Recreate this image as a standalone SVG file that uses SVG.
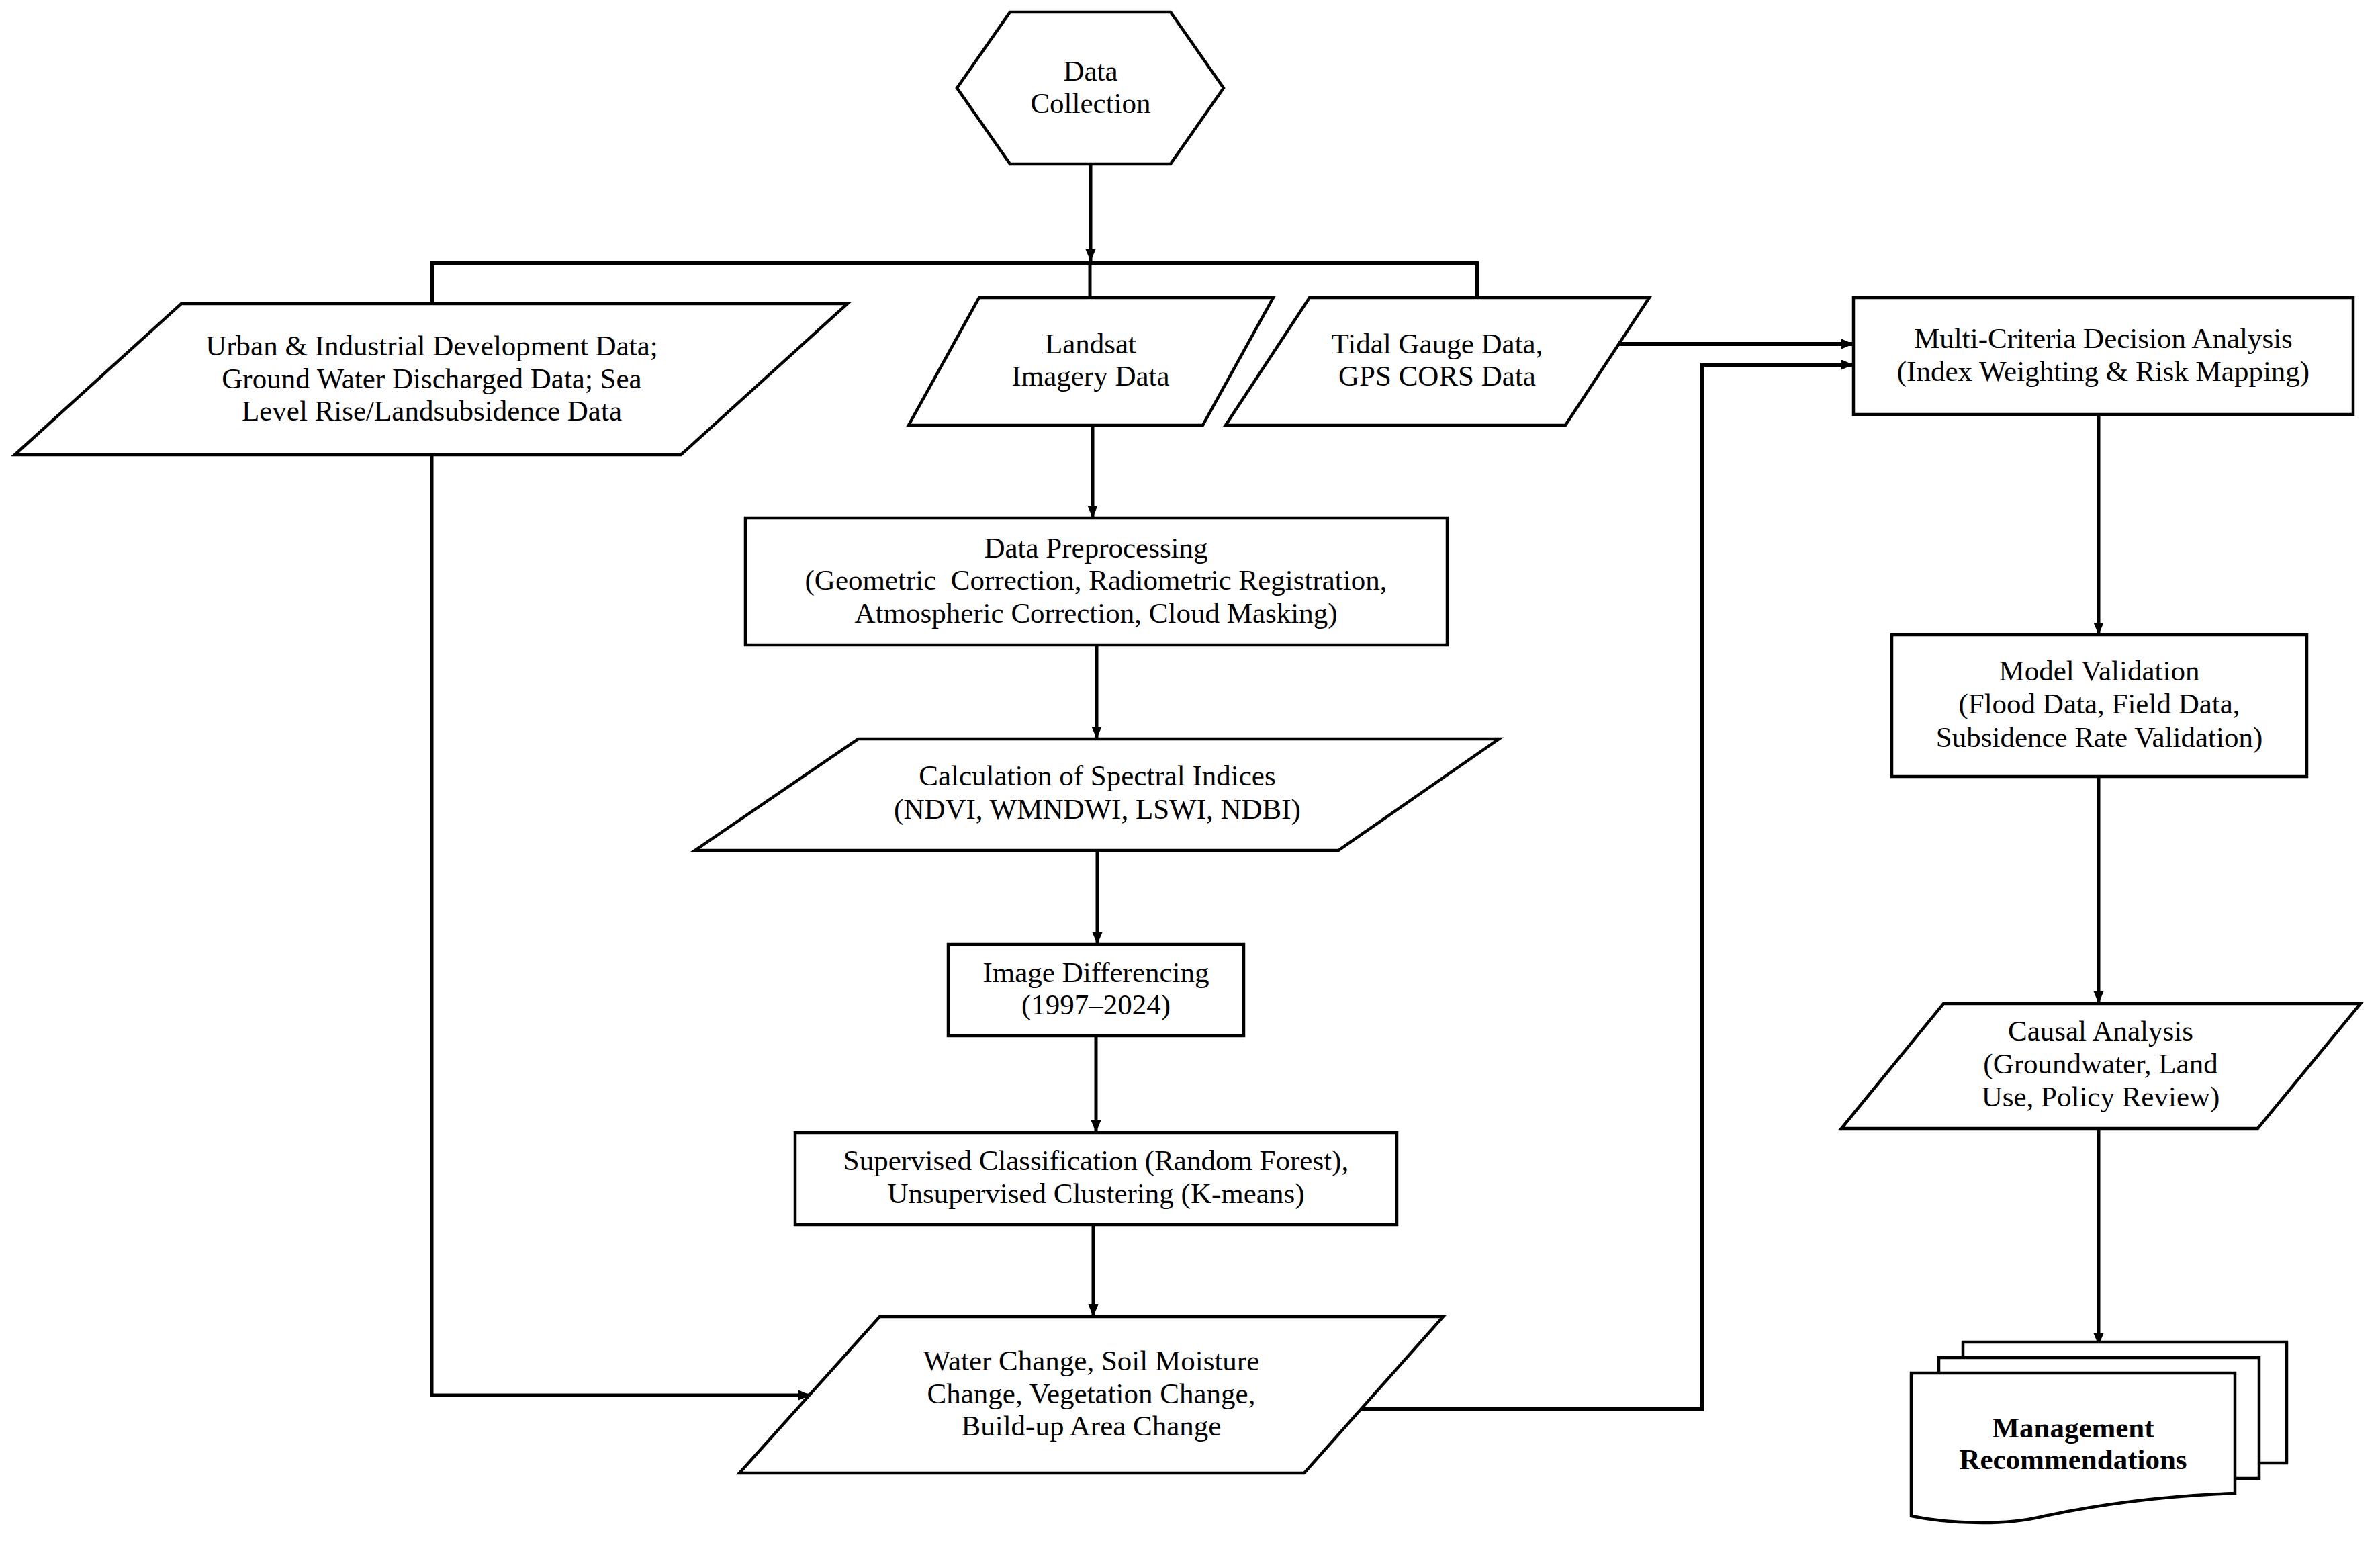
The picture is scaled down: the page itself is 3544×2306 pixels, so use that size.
<svg xmlns="http://www.w3.org/2000/svg" width="3544" height="2306" viewBox="0 0 3544 2306">
<style>
.shape{fill:#fff;stroke:#000;stroke-width:4.5;stroke-linejoin:miter}
.lbl{font-family:"Liberation Serif","Times New Roman",serif;font-size:43px;fill:#000;text-anchor:middle}
.bold{font-weight:bold}
.conn{fill:none;stroke:#000;stroke-width:5}
.thick{stroke-width:6}
</style>
<defs>
<marker id="arr" markerUnits="userSpaceOnUse" markerWidth="18" markerHeight="16" refX="18" refY="7.5" orient="auto">
<path d="M0,0 L18,7.5 L0,15 z" fill="#000"/>
</marker>
</defs>
<rect width="3544" height="2306" fill="#fff"/>

<g id="connectors">
<line class="conn" x1="1624" y1="244" x2="1624" y2="389" marker-end="url(#arr)"/>
<polyline class="conn thick" points="643,452 643,392 2199,392 2199,443"/>
<line class="conn" x1="1623" y1="392" x2="1623" y2="443"/>
<line class="conn" x1="1627" y1="633" x2="1627" y2="771" marker-end="url(#arr)"/>
<line class="conn" x1="1633" y1="960" x2="1633" y2="1100" marker-end="url(#arr)"/>
<line class="conn" x1="1634" y1="1266" x2="1634" y2="1406" marker-end="url(#arr)"/>
<line class="conn" x1="1632" y1="1542" x2="1632" y2="1686" marker-end="url(#arr)"/>
<line class="conn" x1="1628" y1="1823" x2="1628" y2="1960" marker-end="url(#arr)"/>
<polyline class="conn" points="643,677 643,2077 1207,2077" marker-end="url(#arr)"/>
<line class="conn thick" x1="2411" y1="512" x2="2760" y2="512" marker-end="url(#arr)"/>
<polyline class="conn thick" points="2026,2098 2535,2098 2535,543 2760,543" marker-end="url(#arr)"/>
<line class="conn" x1="3125" y1="617" x2="3125" y2="945" marker-end="url(#arr)"/>
<line class="conn" x1="3125" y1="1156" x2="3125" y2="1494" marker-end="url(#arr)"/>
<line class="conn" x1="3125" y1="1680" x2="3125" y2="2003" marker-end="url(#arr)"/>
</g>

<g id="n-data-collection">
<polygon class="shape" points="1504,18 1743,18 1822,131 1743,244 1504,244 1425,131"/>
<text class="lbl" x="1624" y="120">Data</text>
<text class="lbl" x="1624" y="168">Collection</text>
</g>

<g id="n-urban">
<polygon class="shape" points="270,452 1262,452 1014,677 22,677"/>
<text class="lbl" x="643" y="529">Urban &amp; Industrial Development Data;</text>
<text class="lbl" x="643" y="578">Ground Water Discharged Data; Sea</text>
<text class="lbl" x="643" y="626">Level Rise/Landsubsidence Data</text>
</g>

<g id="n-landsat">
<polygon class="shape" points="1458,443 1896,443 1791,633 1353,633"/>
<text class="lbl" x="1624" y="526">Landsat</text>
<text class="lbl" x="1624" y="574">Imagery Data</text>
</g>

<g id="n-tidal">
<polygon class="shape" points="1950,443 2456,443 2331,633 1825,633"/>
<text class="lbl" x="2140" y="526">Tidal Gauge Data,</text>
<text class="lbl" x="2140" y="574">GPS CORS Data</text>
</g>

<g id="n-mcda">
<rect class="shape" x="2760" y="443" width="744" height="174"/>
<text class="lbl" x="3132" y="518">Multi-Criteria Decision Analysis</text>
<text class="lbl" x="3132" y="567">(Index Weighting &amp; Risk Mapping)</text>
</g>

<g id="n-preprocessing">
<rect class="shape" x="1110" y="771" width="1045" height="189"/>
<text class="lbl" x="1632" y="830">Data Preprocessing</text>
<text class="lbl" x="1632" y="878" xml:space="preserve">(Geometric  Correction, Radiometric Registration,</text>
<text class="lbl" x="1632" y="927">Atmospheric Correction, Cloud Masking)</text>
</g>

<g id="n-indices">
<polygon class="shape" points="1278,1100 2232,1100 1993,1266 1035,1266"/>
<text class="lbl" x="1634" y="1169">Calculation of Spectral Indices</text>
<text class="lbl" x="1634" y="1219">(NDVI, WMNDWI, LSWI, NDBI)</text>
</g>

<g id="n-image-differencing">
<rect class="shape" x="1412" y="1406" width="440" height="136"/>
<text class="lbl" x="1632" y="1462">Image Differencing</text>
<text class="lbl" x="1632" y="1510">(1997–2024)</text>
</g>

<g id="n-classification">
<rect class="shape" x="1184" y="1686" width="896" height="137"/>
<text class="lbl" x="1632" y="1742">Supervised Classification (Random Forest),</text>
<text class="lbl" x="1632" y="1791">Unsupervised Clustering (K-means)</text>
</g>

<g id="n-change">
<polygon class="shape" points="1310,1960 2149,1960 1942,2193 1101,2193"/>
<text class="lbl" x="1625" y="2040">Water Change, Soil Moisture</text>
<text class="lbl" x="1625" y="2089">Change, Vegetation Change,</text>
<text class="lbl" x="1625" y="2137">Build-up Area Change</text>
</g>

<g id="n-validation">
<rect class="shape" x="2817" y="945" width="618" height="211"/>
<text class="lbl" x="3126" y="1013">Model Validation</text>
<text class="lbl" x="3126" y="1062">(Flood Data, Field Data,</text>
<text class="lbl" x="3126" y="1112">Subsidence Rate Validation)</text>
</g>

<g id="n-causal">
<polygon class="shape" points="2894,1494 3515,1494 3362,1680 2742,1680"/>
<text class="lbl" x="3128" y="1549">Causal Analysis</text>
<text class="lbl" x="3128" y="1598">(Groundwater, Land</text>
<text class="lbl" x="3128" y="1647">Use, Policy Review)</text>
</g>

<g id="n-recommendations">
<rect class="shape" x="2923" y="1998" width="482" height="180"/>
<rect class="shape" x="2887" y="2021" width="477" height="180"/>
<path class="shape" d="M2846,2044 H3328 V2223 C3200,2228 3100,2245 3040,2258 C2980,2272 2900,2268 2846,2257 Z"/>
<text class="lbl bold" x="3087" y="2140">Management</text>
<text class="lbl bold" x="3087" y="2187">Recommendations</text>
</g>
</svg>
